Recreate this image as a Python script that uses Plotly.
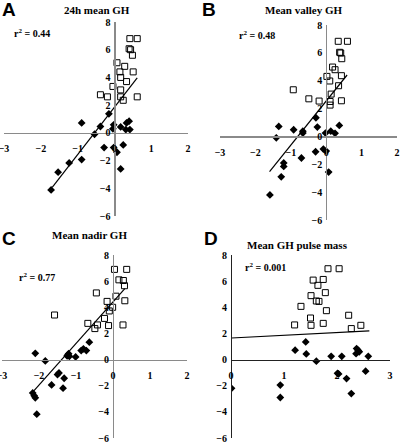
import plotly.graph_objects as go

# ---------------- data ----------------
# Panel A: 24h mean GH
a_sq_x = [0.42, 0.62, 0.40, 0.44, 0.49, 0.07, 0.28, 0.15, 0.51, 0.17, 0.33, -0.04, 0.17, -0.38, -0.19, 0.17, 0.62, 0.24]
a_sq_y = [6.8, 6.8, 6.07, 6.0, 5.6, 5.06, 4.8, 4.4, 4.4, 4.0, 3.7, 3.35, 3.1, 2.75, 2.6, 2.6, 2.6, 2.35]
a_dm_x = [-0.15, -0.89, -0.38, -0.02, -0.04, 0.17, 0.33, 0.40, 0.31, 0.42, -0.54, -0.28, -0.02, 0.24, 0.07, -0.89, -1.23, 0.17, -1.53, -1.72]
a_dm_y = [1.37, 0.72, 0.46, 0.58, 0.29, 0.43, 0.72, 0.84, 0.24, 0.24, -0.1, -1.06, -1.06, -0.87, -1.4, -1.93, -2.17, -2.6, -2.84, -4.12]
a_fit_x = [-1.69, 0.62]
a_fit_y = [-3.93, 3.97]

# Panel B: Mean valley GH
b_sq_x = [0.34, 0.60, 0.38, 0.41, 0.44, 0.18, 0.25, 0.02, 0.43, 0.10, 0.35, 0.14, -0.93, -0.49, -0.20, 0.11, 0.11, 0.43]
b_sq_y = [6.83, 6.83, 6.04, 5.99, 5.58, 4.98, 4.79, 4.31, 4.36, 3.98, 3.64, 3.04, 3.35, 2.7, 2.54, 2.51, 2.25, 2.56]
b_dm_x = [-0.29, -1.34, -0.92, -0.66, -0.66, -0.25, 0.37, 0.13, 0.25, -0.02, -1.41, -0.30, -0.08, 0.0, -0.70, -1.20, -1.20, -1.27, 0.07, -1.59]
b_dm_y = [1.34, 0.72, 0.48, 0.38, 0.24, 0.67, 0.79, 0.38, 0.22, 0.24, -0.1, -1.1, -0.91, -1.05, -1.55, -1.9, -2.15, -2.9, -2.56, -4.2]
b_fit_x = [-1.60, 0.59]
b_fit_y = [-2.53, 4.41]

# Panel C: Mean nadir GH
c_sq_x = [0.04, 0.37, 0.16, 0.28, 0.31, -0.45, 0.08, -0.16, 0.32, -0.01, -0.10, -0.23, -0.68, -0.42, -0.49, -0.12, 0.27, -1.58]
c_sq_y = [6.9, 6.9, 6.1, 6.05, 5.65, 5.1, 4.85, 4.45, 4.5, 4.0, 3.72, 3.15, 2.77, 2.65, 2.37, 2.6, 2.65, 3.41]
c_dm_x = [-2.10, -1.83, -1.20, -1.22, -1.24, -1.18, -1.01, -0.86, -0.80, -0.72, -0.64, -1.46, -1.50, -1.32, -1.66, -1.35, -2.17, -2.13, -2.10, -2.06]
c_dm_y = [0.48, -0.1, 0.45, 0.35, 0.28, 0.25, 0.2, 0.69, 0.82, 0.69, 1.33, -1.02, -1.15, -1.43, -1.94, -2.19, -2.55, -2.76, -2.93, -4.18]
c_fit_x = [-2.17, 0.32]
c_fit_y = [-2.49, 5.42]

# Panel D: Mean GH pulse mass
d_sq_x = [1.83, 2.04, 1.55, 1.74, 1.64, 1.78, 1.51, 1.61, 1.66, 1.32, 1.80, 1.50, 2.22, 1.74, 1.20, 1.51, 2.45, 2.27]
d_sq_y = [6.95, 6.95, 6.08, 6.13, 5.68, 5.12, 4.89, 4.48, 4.45, 4.07, 3.74, 3.18, 3.39, 2.77, 2.65, 2.62, 2.62, 2.37]
d_dm_x = [1.21, 1.41, 1.42, 1.61, 1.89, 2.09, 2.37, 2.40, 2.42, 2.36, 2.59, 0.01, 0.93, 0.93, 2.01, 2.03, 2.18, 2.27, 2.54]
d_dm_y = [0.72, 1.35, 0.43, -0.12, 0.25, 0.25, 0.84, 0.7, 0.6, 0.45, 0.25, -2.2, -1.95, -2.9, -1.05, -1.1, -1.45, -2.6, -0.89]
d_fit_x = [0.01, 2.61]
d_fit_y = [1.65, 2.19]

x_ticks_abc = [-3, -2, -1, 0, 1, 2]
x_ticks_d = [0, 1, 2, 3]
y_ticks = [-6, -4, -2, 0, 2, 4, 6, 8]
titles = ["24h mean GH", "Mean valley GH", "Mean nadir GH", "Mean GH pulse mass"]
letters = ["A", "B", "C", "D"]
r2_values = ["0.44", "0.48", "0.77", "0.001"]

W, H = 400, 442
def px(x):
    return x / W
def py(y):
    return 1 - y / H

serif = "Liberation Serif"
tick_font = dict(family=serif, size=10, color="black", weight="bold")

panels = [
    dict(sq=(a_sq_x, a_sq_y), dm=(a_dm_x, a_dm_y), fit=(a_fit_x, a_fit_y),
         box=(4, 188, 22, 216), xr=[-3, 2], xt=x_ticks_abc, axcol="#8a8a8a",
         title_xy=(97, 10), letter_xy=(0, 9), r2_xy=(12, 33)),
    dict(sq=(b_sq_x, b_sq_y), dm=(b_dm_x, b_dm_y), fit=(b_fit_x, b_fit_y),
         box=(220, 397, 25, 220), xr=[-3, 2], xt=x_ticks_abc, axcol="#8a8a8a",
         title_xy=(303, 10), letter_xy=(200, 9), r2_xy=(237, 35)),
    dict(sq=(c_sq_x, c_sq_y), dm=(c_dm_x, c_dm_y), fit=(c_fit_x, c_fit_y),
         box=(2, 187, 255, 438), xr=[-3, 2], xt=x_ticks_abc, axcol="#8a8a8a",
         title_xy=(89, 235), letter_xy=(0, 238), r2_xy=(17, 277)),
    dict(sq=(d_sq_x, d_sq_y), dm=(d_dm_x, d_dm_y), fit=(d_fit_x, d_fit_y),
         box=(231, 390, 255, 438), xr=[0, 3], xt=x_ticks_d, axcol="#222222",
         title_xy=(297, 245), letter_xy=(202, 238), r2_xy=(243, 267)),
]

yr = [-6, 8]
fig = go.Figure()
layout = dict(width=W, height=H, margin=dict(l=0, r=0, t=0, b=0, autoexpand=False),
              paper_bgcolor="white", plot_bgcolor="white", showlegend=False,
              hovermode=False)
annotations = []

for i, p in enumerate(panels):
    n = "" if i == 0 else str(i + 1)
    xa, ya = "x" + n, "y" + n
    x0, x1, y0, y1 = p["box"]
    xd = [px(x0), px(x1)]
    yd = [py(y1), py(y0)]
    xr = p["xr"]
    # positions of the crossing axes (at zero)
    xpos = yd[0] + (0 - yr[0]) / (yr[1] - yr[0]) * (yd[1] - yd[0])
    ypos = xd[0] + (0 - xr[0]) / (xr[1] - xr[0]) * (xd[1] - xd[0])
    layout["xaxis" + n] = dict(domain=xd, range=xr, anchor="free", position=xpos,
                               showline=True, linecolor=p["axcol"], linewidth=1.2,
                               tickvals=p["xt"], ticks="outside", ticklen=6,
                               tickcolor="rgba(0,0,0,0)", showgrid=False, zeroline=False,
                               tickfont=tick_font, fixedrange=True, automargin=False,
                               ticklabeloverflow="allow")
    layout["yaxis" + n] = dict(domain=yd, range=yr, anchor="free", position=ypos,
                               showline=True, linecolor=p["axcol"], linewidth=1.2,
                               tickvals=y_ticks, ticks="outside", ticklen=2,
                               tickcolor="rgba(0,0,0,0)", showgrid=False, zeroline=False,
                               tickfont=tick_font, fixedrange=True, automargin=False,
                               ticklabeloverflow="allow")
    fig.add_trace(go.Scatter(x=p["fit"][0], y=p["fit"][1], mode="lines",
                             line=dict(color="black", width=1.2),
                             xaxis=xa, yaxis=ya, hoverinfo="skip"))
    fig.add_trace(go.Scatter(x=p["sq"][0], y=p["sq"][1], mode="markers",
                             marker=dict(symbol="square-open", size=6,
                                         color="black", line=dict(width=1, color="black")),
                             xaxis=xa, yaxis=ya))
    fig.add_trace(go.Scatter(x=p["dm"][0], y=p["dm"][1], mode="markers",
                             marker=dict(symbol="diamond", size=6, color="black",
                                         line=dict(width=0)),
                             xaxis=xa, yaxis=ya))
    tx, ty = p["title_xy"]
    annotations.append(dict(text="<b>" + titles[i] + "</b>", x=px(tx), y=py(ty),
                            xref="paper", yref="paper", showarrow=False,
                            xanchor="center", yanchor="middle",
                            font=dict(family=serif, size=11, color="black")))
    lx, ly = p["letter_xy"]
    annotations.append(dict(text="<b>" + letters[i] + "</b>", x=px(lx), y=py(ly),
                            xref="paper", yref="paper", showarrow=False,
                            xanchor="left", yanchor="middle",
                            font=dict(family="Liberation Sans", size=19, color="black")))
    rx, ry = p["r2_xy"]
    annotations.append(dict(text="<b>r<sup>2</sup> = " + r2_values[i] + "</b>",
                            x=px(rx), y=py(ry), xref="paper", yref="paper",
                            showarrow=False, xanchor="left", yanchor="middle",
                            font=dict(family=serif, size=10, color="black")))

layout["annotations"] = annotations
fig.update_layout(**layout)
fig.write_html("out.html", config={"displayModeBar": False, "staticPlot": True},
               post_script="document.body.style.margin='0px';document.body.style.padding='0px';")
